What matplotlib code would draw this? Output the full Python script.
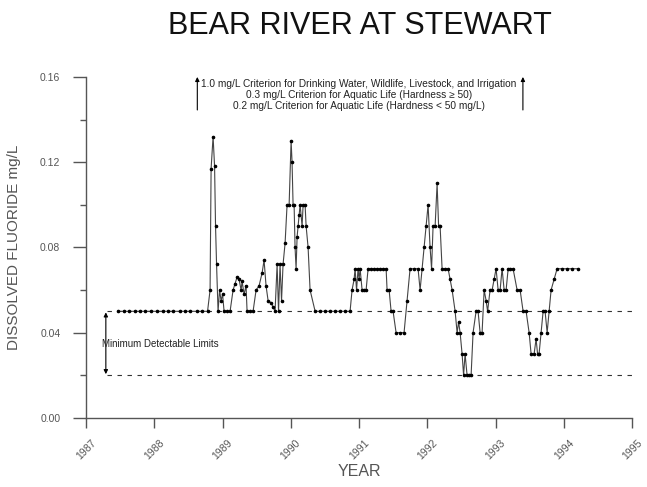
import numpy as np
import matplotlib.pyplot as plt
from matplotlib.ticker import MultipleLocator

plt.rcParams["font.family"] = ["Liberation Sans", "DejaVu Sans"]

# sample dates (decimal year) and dissolved fluoride (mg/L)
years = [1987.47, 1987.55, 1987.63, 1987.71, 1987.79, 1987.87, 1987.95, 1988.04,
         1988.12, 1988.20, 1988.28, 1988.37, 1988.45, 1988.53, 1988.62, 1988.70,
         1988.78, 1988.817, 1988.832, 1988.861, 1988.883, 1988.897, 1988.912, 1988.934,
         1988.956, 1988.978, 1989.0, 1989.022, 1989.066, 1989.11, 1989.154, 1989.183,
         1989.212, 1989.242, 1989.271, 1989.286, 1989.315, 1989.344, 1989.359, 1989.403,
         1989.447, 1989.491, 1989.535, 1989.579, 1989.608, 1989.637, 1989.667, 1989.711,
         1989.74, 1989.769, 1989.799, 1989.82, 1989.842, 1989.864, 1989.886, 1989.916,
         1989.945, 1989.975, 1990.004, 1990.018, 1990.033, 1990.048, 1990.062, 1990.077,
         1990.092, 1990.106, 1990.121, 1990.136, 1990.165, 1990.18, 1990.209, 1990.224,
         1990.253, 1990.282, 1990.356, 1990.429, 1990.502, 1990.575, 1990.648, 1990.722,
         1990.795, 1990.868, 1990.897, 1990.927, 1990.941, 1990.963, 1990.985, 1991.0,
         1991.015, 1991.044, 1991.073, 1991.103, 1991.132, 1991.176, 1991.22, 1991.264,
         1991.308, 1991.352, 1991.396, 1991.41, 1991.44, 1991.469, 1991.498, 1991.542,
         1991.601, 1991.659, 1991.703, 1991.747, 1991.806, 1991.864, 1991.894, 1991.923,
         1991.952, 1991.982, 1992.011, 1992.04, 1992.062, 1992.084, 1992.114, 1992.143,
         1992.165, 1992.187, 1992.216, 1992.26, 1992.304, 1992.333, 1992.363, 1992.407,
         1992.436, 1992.458, 1992.48, 1992.509, 1992.531, 1992.553, 1992.582, 1992.612,
         1992.641, 1992.67, 1992.714, 1992.743, 1992.773, 1992.802, 1992.832, 1992.861,
         1992.883, 1992.919, 1992.949, 1992.978, 1993.007, 1993.037, 1993.066, 1993.095,
         1993.125, 1993.154, 1993.184, 1993.212, 1993.256, 1993.315, 1993.359, 1993.403,
         1993.447, 1993.491, 1993.52, 1993.564, 1993.593, 1993.615, 1993.637, 1993.667,
         1993.696, 1993.725, 1993.755, 1993.784, 1993.813, 1993.857, 1993.901, 1993.974,
         1994.048, 1994.121, 1994.209]
fluoride = [0.05, 0.05, 0.05, 0.05, 0.05, 0.05, 0.05, 0.05,
            0.05, 0.05, 0.05, 0.05, 0.05, 0.05, 0.05, 0.05,
            0.05, 0.06, 0.117, 0.132, 0.118, 0.09, 0.072, 0.05,
            0.06, 0.055, 0.058, 0.05, 0.05, 0.05, 0.06, 0.063,
            0.066, 0.065, 0.06, 0.064, 0.058, 0.062, 0.05, 0.05,
            0.05, 0.06, 0.062, 0.068, 0.074, 0.062, 0.055, 0.054,
            0.052, 0.05, 0.072, 0.05, 0.072, 0.055, 0.072, 0.082,
            0.10, 0.10, 0.13, 0.12, 0.10, 0.10, 0.08, 0.07,
            0.085, 0.09, 0.095, 0.10, 0.09, 0.10, 0.10, 0.09,
            0.08, 0.06, 0.05, 0.05, 0.05, 0.05, 0.05, 0.05,
            0.05, 0.05, 0.06, 0.065, 0.07, 0.06, 0.07, 0.065,
            0.07, 0.06, 0.06, 0.06, 0.07, 0.07, 0.07, 0.07,
            0.07, 0.07, 0.07, 0.06, 0.06, 0.05, 0.05, 0.04,
            0.04, 0.04, 0.055, 0.07, 0.07, 0.07, 0.06, 0.07,
            0.08, 0.09, 0.10, 0.08, 0.07, 0.09, 0.09, 0.11,
            0.09, 0.09, 0.07, 0.07, 0.07, 0.065, 0.06, 0.05,
            0.04, 0.045, 0.04, 0.03, 0.02, 0.03, 0.02, 0.02,
            0.02, 0.04, 0.05, 0.05, 0.04, 0.04, 0.06, 0.055,
            0.05, 0.06, 0.06, 0.065, 0.07, 0.06, 0.06, 0.07,
            0.06, 0.06, 0.07, 0.07, 0.07, 0.06, 0.06, 0.05,
            0.05, 0.04, 0.03, 0.03, 0.037, 0.03, 0.03, 0.04,
            0.05, 0.05, 0.04, 0.05, 0.06, 0.065, 0.07, 0.07,
            0.07, 0.07, 0.07]

detect_limits = [0.05, 0.02]
criteria = ["1.0 mg/L Criterion for Drinking Water, Wildlife, Livestock, and Irrigation",
            "0.3 mg/L Criterion for Aquatic Life (Hardness \u2265 50)",
            "0.2 mg/L Criterion for Aquatic Life (Hardness < 50 mg/L)"]
year_ticks = list(range(1987, 1996))

grey = '#555555'
fig = plt.figure(figsize=(6.47, 4.87), dpi=100)
ax = fig.add_axes([0.133, 0.142, 0.844, 0.700])

for lim in detect_limits:
    ax.plot([1987.3, 1995.0], [lim, lim], color='#333333', linestyle=(0, (4, 5)), linewidth=0.8)

ax.plot(years, fluoride, color='#444444', linewidth=0.8, marker='o', markersize=1.6,
        markerfacecolor='black', markeredgecolor='black')

# minimum detectable limit arrow
ax.annotate('', xy=(1987.29, 0.0495), xytext=(1987.29, 0.0205),
            arrowprops=dict(arrowstyle='<|-|>', color='black', lw=0.8,
                            mutation_scale=6, shrinkA=0, shrinkB=0))
ax.text(1987.24, 0.0345, 'Minimum Detectable Limits', fontsize=7, color='#222222',
        va='center', ha='left')

# off-scale criteria arrows
for xa in [1988.63, 1993.40]:
    ax.annotate('', xy=(xa, 0.160), xytext=(xa, 0.1445),
                arrowprops=dict(arrowstyle='-|>', color='black', lw=0.8,
                                mutation_scale=6, shrinkA=0, shrinkB=0),
                annotation_clip=False)
for i, txt in enumerate(criteria):
    ax.text(1991.0, 0.1568 - i * 0.0053, txt, fontsize=7.3, color='#222222',
            ha='center', va='center')

ax.set_xlim(1987, 1995)
ax.set_ylim(0, 0.16)
ax.set_xticks(year_ticks)
ax.set_xticklabels([str(y) for y in year_ticks], rotation=45, ha='center',
                   va='top', fontsize=7.5, color=grey)
ax.yaxis.set_major_locator(MultipleLocator(0.04))
ax.yaxis.set_minor_locator(MultipleLocator(0.02))
ax.set_yticklabels(['%.2f' % v for v in ax.get_yticks()], fontsize=7.5, color=grey)

for side in ['top', 'right']:
    ax.spines[side].set_visible(False)
for side in ['left', 'bottom']:
    ax.spines[side].set_color(grey)
    ax.spines[side].set_linewidth(1.0)
ax.tick_params(axis='x', which='major', direction='out', length=7.5, color=grey, width=1.0, pad=7)
ax.tick_params(axis='y', which='major', direction='out', length=9.5, color=grey, width=1.0, pad=9)
ax.tick_params(axis='y', which='minor', direction='out', length=4.5, color=grey, width=1.0)

ax.set_xlabel('YEAR', fontsize=11.5, color=grey, labelpad=2)
ax.set_ylabel('DISSOLVED FLUORIDE mg/L', fontsize=11, color=grey, labelpad=14)
fig.text(0.556, 0.947, 'BEAR RIVER AT STEWART', fontsize=22, ha='center', va='center',
         color='#111111')

fig.savefig('out.png', dpi=100)
